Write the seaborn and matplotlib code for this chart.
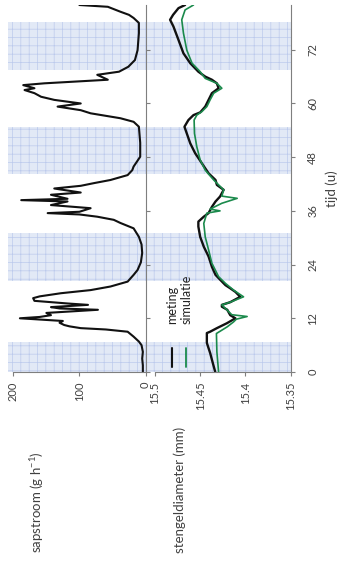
import numpy as np
import pandas as pd
import matplotlib
matplotlib.use("Agg")
import matplotlib.pyplot as plt
import seaborn as sns

sns.set_theme(style="white")
plt.rcParams['font.family'] = ['Lato', 'DejaVu Sans']
plt.rcParams['hatch.linewidth'] = 0.5

# ---------------- data ----------------
time_ticks = [0, 12, 24, 36, 48, 60, 72]
night_start = [0.0, 20.4, 44.2, 67.4]
night_end = [6.6, 31.0, 54.8, 78.2]

sap_t = [0.0, 1.5, 3.0, 4.5, 6.0, 6.8, 7.9, 9.0, 9.5, 9.8, 10.2, 10.5, 11.0, 11.4,
         12.0, 12.3, 12.7, 13.2, 13.9, 14.2, 14.5, 15.0, 15.3, 15.9, 16.5, 16.9,
         17.6, 18.3, 19.1, 20.2, 21.7, 22.8, 24.5, 26.6, 28.5, 30.2, 32.1, 33.3,
         34.0, 34.7, 35.2, 35.5, 35.8, 36.6, 37.3, 38.1, 38.4, 38.7, 39.6, 40.1,
         41.0, 41.6, 42.2, 42.9, 44.0, 45.1, 45.9, 48.1, 51.2, 53.0, 54.8, 55.9,
         56.7, 57.8, 58.5, 59.3, 60.0, 60.8, 61.5, 62.3, 63.0, 63.4, 64.1, 64.5,
         65.3, 66.4, 67.1, 68.2, 69.7, 71.9, 75.7, 78.0, 79.1, 79.8, 80.5, 81.6, 82.0]
sap_v = [4, 4, 5, 4, 6, 10, 18, 27, 60, 98, 115, 123, 130, 125,
         190, 160, 143, 150, 72, 130, 143, 87, 117, 168, 170, 160,
         128, 83, 53, 27, 18, 12, 7, 5, 6, 10, 18, 38,
         48, 73, 100, 148, 100, 83, 143, 118, 188, 118, 143, 98,
         138, 98, 78, 53, 27, 20, 18, 8, 8, 9, 10, 18,
         38, 83, 98, 133, 98, 138, 158, 168, 183, 168, 185, 153,
         57, 73, 40, 26, 16, 12, 10, 10, 18, 25, 38, 57, 100]

meas_t = [0.0, 2.0, 4.2, 6.5, 8.7, 9.0, 9.8, 10.9, 12.0, 12.7, 13.9, 14.6, 15.0,
          15.6, 16.8, 17.9, 18.7, 19.4, 20.6, 21.7, 23.5, 25.8, 28.0, 30.2, 32.5,
          33.6, 34.7, 35.5, 36.9, 38.1, 39.2, 40.7, 41.8, 42.9, 44.4, 46.6, 48.9,
          51.1, 53.3, 54.8, 56.3, 57.4, 58.0, 59.3, 60.8, 62.3, 63.4, 64.5, 65.3,
          66.0, 67.1, 69.0, 71.2, 74.2, 77.2, 78.7, 79.8, 81.3, 82.0]
meas_v = [15.4333, 15.4360, 15.4389, 15.4426, 15.4426, 15.4390, 15.4315, 15.4204,
          15.4110, 15.4167, 15.4200, 15.4260, 15.4260, 15.4167, 15.4056, 15.4110,
          15.4167, 15.4220, 15.4278, 15.4330, 15.4370, 15.4407, 15.4460, 15.4500,
          15.4520, 15.4520, 15.4460, 15.4407, 15.4370, 15.4330, 15.4280, 15.4240,
          15.4315, 15.4330, 15.4407, 15.4480, 15.4556, 15.4610, 15.4648, 15.4674,
          15.4630, 15.4574, 15.4500, 15.4444, 15.4407, 15.4370, 15.4296, 15.4315,
          15.4370, 15.4444, 15.4520, 15.4610, 15.4685, 15.4740, 15.4796, 15.4833,
          15.4800, 15.4740, 15.4667]

sim_t = [0.0, 4.5, 8.6, 10.1, 11.2, 11.8, 12.4, 12.8, 14.2, 15.0, 15.6, 16.8, 18.3,
         19.8, 21.3, 24.3, 27.3, 30.2, 33.2, 35.5, 36.0, 36.4, 37.7, 38.8, 39.3,
         40.7, 42.9, 45.1, 47.4, 50.3, 53.3, 56.3, 57.4, 58.2, 59.3, 60.8, 62.3,
         63.4, 64.5, 65.6, 67.1, 69.0, 71.9, 75.7, 78.7, 80.9, 82.0]
sim_v = [15.4296, 15.4315, 15.4320, 15.4200, 15.4130, 15.4100, 15.3980, 15.4150,
         15.4220, 15.4260, 15.4167, 15.4020, 15.4130, 15.4220, 15.4296, 15.4370,
         15.4407, 15.4444, 15.4460, 15.4426, 15.4280, 15.4390, 15.4260, 15.4090,
         15.4260, 15.4240, 15.4350, 15.4444, 15.4500, 15.4537, 15.4563, 15.4567,
         15.4537, 15.4480, 15.4426, 15.4390, 15.4350, 15.4260, 15.4315, 15.4444,
         15.4500, 15.4590, 15.4648, 15.4685, 15.4704, 15.4667, 15.4574]

sap_df = pd.DataFrame({"tijd": sap_t, "sapstroom": sap_v})
meas_df = pd.DataFrame({"tijd": meas_t, "diameter": meas_v})
sim_df = pd.DataFrame({"tijd": sim_t, "diameter": sim_v})

# ---------------- figure ----------------
W, H = 337, 562
fig = plt.figure(figsize=(W / 100, H / 100), dpi=100)
fig.patch.set_facecolor("white")

def rect(x0, x1, ytop, ybot):
    return [x0 / W, 1 - ybot / H, (x1 - x0) / W, (ybot - ytop) / H]

YTOP, YBOT = 5.0, 372.0
TMAX = 82.0
axis_col = "#7f7f7f"
text_col = "#404040"

# background bands (night)
bg = fig.add_axes(rect(8, 292, YTOP, YBOT))
bg.set_xlim(0, 1)
bg.set_ylim(0, TMAX)
bg.axis("off")
for s, e in zip(night_start, night_end):
    bg.axhspan(s, e, facecolor="#e2e9f6", edgecolor="#bccaec", hatch="++", linewidth=0)

# top panel: sapstroom
ax1 = fig.add_axes(rect(13.3, 145.5, YTOP, YBOT))
ax1.patch.set_alpha(0)
sns.lineplot(data=sap_df, x="sapstroom", y="tijd", orient="y", sort=False,
             estimator=None, color="#111111", linewidth=1.5, ax=ax1)
ax1.set_xlim(200, 0)
ax1.set_ylim(0, TMAX)

# bottom panel: stengeldiameter
ax2 = fig.add_axes(rect(155, 290.5, YTOP, YBOT))
ax2.patch.set_alpha(0)
sns.lineplot(data=meas_df, x="diameter", y="tijd", orient="y", sort=False,
             estimator=None, color="#111111", linewidth=1.7, ax=ax2)
sns.lineplot(data=sim_df, x="diameter", y="tijd", orient="y", sort=False,
             estimator=None, color="#1b8a4c", linewidth=1.2, ax=ax2)
ax2.set_xlim(15.5, 15.35)
ax2.set_ylim(0, TMAX)

for ax in (ax1, ax2):
    ax.set_xlabel("")
    ax.set_ylabel("")
    for sp in ("left", "top"):
        ax.spines[sp].set_visible(False)
    for sp in ("bottom", "right"):
        ax.spines[sp].set_visible(True)
        ax.spines[sp].set_color(axis_col)
        ax.spines[sp].set_linewidth(0.8)
    ax.yaxis.tick_right()
    ax.set_yticks(time_ticks)
    ax.tick_params(axis="both", direction="out", length=3, width=0.8,
                   color=axis_col, labelcolor=text_col, labelsize=8)
    ax.tick_params(axis="x", bottom=True, labelrotation=90, pad=4)
    ax.tick_params(axis="y", right=True, left=False, labelrotation=90)
    ax.grid(False)

ax1.set_xticks([0, 100, 200])
ax1.set_xticklabels(["0", "100", "200"])
ax1.tick_params(axis="y", labelright=False)

ax2.set_xticks([15.35, 15.4, 15.45, 15.5])
ax2.set_xticklabels(["15.35", "15.4", "15.45", "15.5"])
ax2.set_yticklabels([str(t) for t in time_ticks])
ax2.tick_params(axis="y", labelright=True, pad=9)
for lab in ax2.get_yticklabels():
    lab.set_va("center")
for lab in ax1.get_xticklabels() + ax2.get_xticklabels():
    lab.set_ha("center")

# axis titles
fig.text(37 / W, 1 - 553 / H, "sapstroom (g h$^{\\mathregular{-1}}$)", rotation=90,
         rotation_mode="anchor", ha="left", va="center", fontsize=9.5, color=text_col)
fig.text(180 / W, 1 - 553 / H, "stengeldiameter (mm)", rotation=90,
         rotation_mode="anchor", ha="left", va="center", fontsize=9.5, color=text_col)
fig.text(331.5 / W, 1 - 189 / H, "tijd (u)", rotation=90, ha="center", va="center",
         fontsize=9.5, color=text_col)

# legend (rotated, drawn in axes coordinates)
tr = ax2.transAxes
def ax_x(px):
    return (px - 155) / (290.5 - 155)
def ax_y(py):
    return (YBOT - py) / (YBOT - YTOP)
for px, col, lw, lab in [(171.7, "#111111", 1.5, "meting"), (186.0, "#1b8a4c", 1.3, "simulatie")]:
    ax2.plot([ax_x(px), ax_x(px)], [ax_y(366.7), ax_y(348.3)], transform=tr,
             color=col, linewidth=lw, clip_on=False)
    ax2.text(ax_x(px + 0.8), ax_y(324), lab, transform=tr, rotation=90,
             rotation_mode="anchor", ha="left", va="center", fontsize=9, color="#222222")

fig.savefig("out.png", dpi=100, facecolor="white")
